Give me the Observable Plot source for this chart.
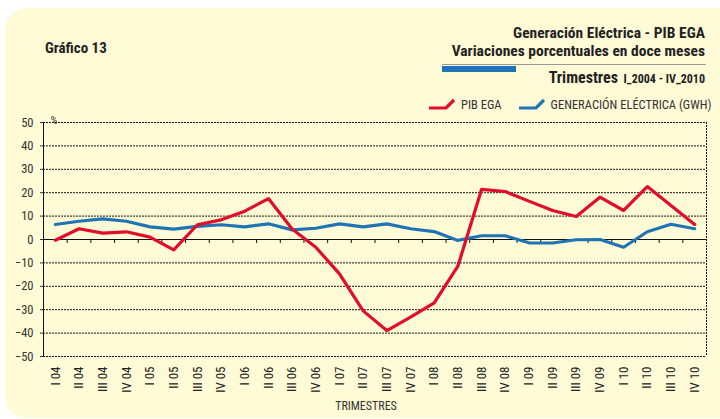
<!DOCTYPE html>
<html><head><meta charset="utf-8">
<script src="https://cdn.jsdelivr.net/npm/d3@7"></script>
<script src="https://cdn.jsdelivr.net/npm/@observablehq/plot@0.6"></script>
<style>
html,body{margin:0;padding:0;background:#fff;}
#wrap{position:relative;width:720px;height:419px;overflow:hidden;font-family:"Liberation Sans Narrow","Roboto Condensed","DejaVu Sans Condensed","Liberation Sans",sans-serif;}
#panel{position:absolute;left:5px;top:8px;width:740px;height:410px;background:#fffbd6;border-radius:22px;}
.t{position:absolute;white-space:nowrap;color:#222;font-weight:bold;line-height:14px;}
#g13{left:45px;top:41px;font-size:15px;}
#t1{right:15px;top:26px;font-size:15.5px;}
#t2{right:15px;top:44px;font-size:15.5px;}
#rule{position:absolute;left:442px;top:64px;width:264px;height:1px;background:#9a9a9a;}
#bar{position:absolute;left:442px;top:66px;width:74px;height:6px;background:#1f74b5;}
#t3{right:15px;top:71px;font-size:16px;}
#t3 span{font-size:12px;margin-left:2px;}
#legend{position:absolute;left:428px;top:97px;font-size:12.5px;color:#333;white-space:nowrap;}
#legend svg{vertical-align:middle;margin-right:5px;position:relative;top:-2px;}
#legend .it{margin-right:16px;}
#chart{position:absolute;left:0;top:110px;}
</style></head>
<body><div id="wrap">
<div id="panel"></div>
<div class="t" id="g13">Gráfico 13</div>
<div class="t" id="t1">Generación Eléctrica - PIB EGA</div>
<div class="t" id="t2">Variaciones porcentuales en doce meses</div>
<div id="rule"></div><div id="bar"></div>
<div class="t" id="t3">Trimestres <span>I_2004 - IV_2010</span></div>
<div id="legend"></div>
<div id="chart"></div>
</div>
<script>
const quarters = ["I 04","II 04","III 04","IV 04","I 05","II 05","III 05","IV 05","I 06","II 06","III 06","IV 06","I 07","II 07","III 07","IV 07","I 08","II 08","III 08","IV 08","I 09","II 09","III 09","IV 09","I 10","II 10","III 10","IV 10"];
const pibEga = [-0.3,4.6,2.7,3.3,1.0,-4.4,6.3,8.4,12.1,17.5,4.5,-3.3,-14.7,-30.5,-38.9,-33.2,-27.1,-11.4,21.4,20.5,16.4,12.4,9.8,18.1,12.4,22.6,14.5,6.4];
const generacion = [6.4,7.8,8.8,7.8,5.4,4.4,5.6,6.3,5.4,6.7,4.1,4.8,6.7,5.4,6.7,4.6,3.4,-0.4,1.6,1.6,-1.4,-1.5,-0.1,0.0,-3.3,3.3,6.5,4.6];
const yTicks = [-50,-40,-30,-20,-10,0,10,20,30,40,50];
const seriesNames = ["PIB EGA","GENERACIÓN ELÉCTRICA (GWH)"];
const seriesColors = ["#e30d2b","#1f74b5"];

const rows = quarters.map((q,i)=>({i, v: pibEga[i], s: seriesNames[0]}));
const rows2 = quarters.map((q,i)=>({i, v: generacion[i], s: seriesNames[1]}));
const idx = quarters.map((q,i)=>i);
const bounds = d3.range(quarters.length+1).map(i=>i-0.5);

// legend
const leg = document.getElementById("legend");
seriesNames.forEach((n,k)=>{
  const span = document.createElement("span");
  span.className="it";
  span.innerHTML = `<svg width="28" height="12"><path d="M1,10 L18,10 L26,2" fill="none" stroke="${seriesColors[k]}" stroke-width="3.2"/></svg>${n}`;
  leg.appendChild(span);
});

const fontFam = '"Liberation Sans Narrow","Roboto Condensed","DejaVu Sans Condensed","Liberation Sans",sans-serif';
const chart = Plot.plot({
  width: 720, height: 309,
  marginLeft: 43, marginRight: 14, marginTop: 12, marginBottom: 63,
  style: {background: "transparent", fontFamily: fontFam, fontSize: "12px", color: "#333"},
  x: {type: "linear", domain: [-0.5, quarters.length-0.5]},
  y: {domain: [-50, 50]},
  marks: [
    Plot.ruleY(yTicks.filter(d=>d!==0), {stroke: "#111", strokeDasharray: "2,1", strokeWidth: 1}),
    Plot.ruleX([quarters.length-0.5], {stroke: "#111", strokeDasharray: "2,1", strokeWidth: 1}),
    Plot.ruleX(bounds.slice(1,-1), {x: d=>d, y1: 0, y2: -1.7, stroke: "#111", strokeWidth: 1}),
    Plot.ruleY([0], {stroke: "#111", strokeWidth: 1}),
    Plot.ruleX([-0.5], {stroke: "#111", strokeWidth: 1}),
    Plot.axisY({ticks: yTicks, tickSize: 3, tickPadding: 7, label: null, fontSize: 12.5}),
    Plot.axisX({ticks: idx, tickFormat: i=>quarters[i], tickSize: 0, tickPadding: 10, tickRotate: -90, label: null, fontSize: 13, fill: "#222"}),
    Plot.text(["%"], {frameAnchor: "top-left", dx: 7, dy: -6, fontSize: 11, fill: "#333", textAnchor: "start"}),
    Plot.text(["TRIMESTRES"], {frameAnchor: "bottom", dx: -9, dy: 53, fontSize: 12, fill: "#333"}),
    Plot.line(rows2, {x: "i", y: "v", stroke: seriesColors[1], strokeWidth: 3.2}),
    Plot.line(rows, {x: "i", y: "v", stroke: seriesColors[0], strokeWidth: 3.2})
  ]
});
document.getElementById("chart").appendChild(chart);
</script>
</body></html>
